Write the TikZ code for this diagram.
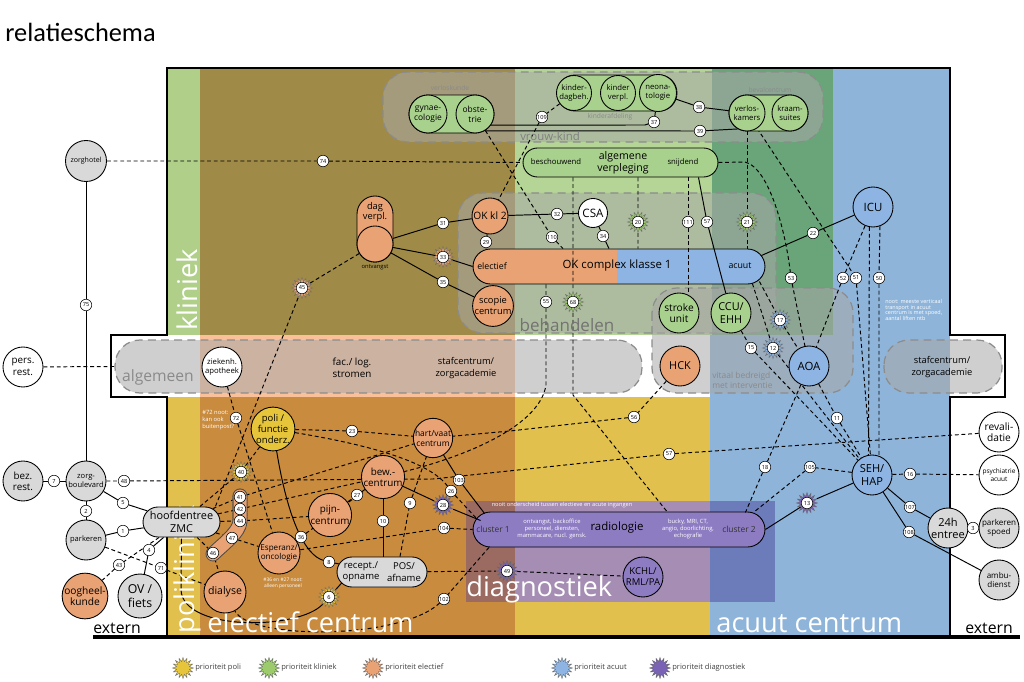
\documentclass[tikz,border=0pt]{standalone}
\usepackage{fontspec}
\setmainfont{Open Sans}
\newfontfamily\titlefont{Carlito}
\usetikzlibrary{shapes.geometric,shapes.misc,calc}
\pgfdeclarelayer{bg}
\pgfdeclarelayer{lines}
\pgfsetlayers{bg,lines,main}
\definecolor{cOlive}{HTML}{A08A48}
\definecolor{lgreenR}{HTML}{B4D596}
\definecolor{dgreenR}{HTML}{6AA57A}
\definecolor{blueR}{HTML}{8EB4DA}
\definecolor{orangeR}{HTML}{C98B3E}
\definecolor{yellowR}{HTML}{E2C04E}
\definecolor{stripG}{HTML}{B0D08A}
\definecolor{bandR}{HTML}{FAC09A}
\definecolor{boxgray}{HTML}{A8A8A8}
\definecolor{diagO}{HTML}{9B6B62}
\definecolor{diagY}{HTML}{A58DB3}
\definecolor{diagB}{HTML}{6C7BBA}
\definecolor{greenN}{HTML}{A9D18E}
\definecolor{orangeN}{HTML}{E8A274}
\definecolor{blueN}{HTML}{8DB4E2}
\definecolor{yellowN}{HTML}{E6C53A}
\definecolor{grayN}{HTML}{D9D9D9}
\definecolor{purpleN}{HTML}{8E7CC3}
\definecolor{txtgray}{HTML}{8A8A8A}
\definecolor{starY}{HTML}{E6C53A}
\definecolor{starG}{HTML}{9BCB6B}
\definecolor{starO}{HTML}{E8A274}
\definecolor{starB}{HTML}{8DB4E2}
\definecolor{starP}{HTML}{7A63B5}
\newcommand{\fsz}[2]{\fontsize{#1}{#2}\selectfont}
\newcommand{\prionode}[4]{\node[prio=#1] (#2) at (#3) {}; \node[num] at (#2) {#4};}
\tikzset{
  every node/.style={inner sep=0pt, align=center},
  nd/.style={circle, draw=black, line width=0.5pt, inner sep=0pt, align=center, font=\fsz{5.6}{6.4}},
  num/.style={circle, draw=black, line width=0.3pt, fill=white, inner sep=0pt, minimum size=0.23cm, font=\fsz{3.2}{3.2}},
  prio/.style={star, star points=16, star point ratio=1.6, minimum size=0.42cm, inner sep=0pt, fill=#1, draw=black!60, line width=0.2pt},
  pill/.style={rounded rectangle, draw=black, line width=0.5pt, inner sep=0pt, align=center},
  gbox/.style={fill=boxgray, fill opacity=0.55, draw=black!45, line width=0.7pt, dash pattern=on 4.5pt off 3pt, rounded corners=0.5cm},
  sl/.style={draw=black, line width=0.55pt},
  dl/.style={draw=black, line width=0.55pt, dash pattern=on 2.2pt off 1.6pt},
  bigw/.style={text=white, font=\fsz{15.5}{18}, inner sep=0pt},
  lbl/.style={text=txtgray, inner sep=0pt},
  wnote/.style={text=white, font=\fsz{3.3}{4}, align=left, inner sep=0pt},
  lgd/.style={anchor=west, text=black!75, font=\fsz{4.3}{5}}
}
\begin{document}
\begin{tikzpicture}[x=0.02cm, y=-0.02cm]
\useasboundingbox (0,0) rectangle (1024,682);
\begin{pgfonlayer}{bg}
\fill[white] (0,0) rectangle (1024,682);
\fill[stripG] (167,68) rectangle (200,335);
\fill[cOlive] (200,68) rectangle (515,335);
\fill[lgreenR] (515,68) rectangle (712,335);
\fill[dgreenR] (712,68) rectangle (833,335);
\fill[blueR] (833,68) rectangle (950,636);
\fill[blueR] (710,335) rectangle (833,636);
\fill[bandR] (200,335) rectangle (515,397);
\fill[yellowR] (167,397) rectangle (200,636);
\fill[orangeR] (200,397) rectangle (515,636);
\fill[yellowR] (515,397) rectangle (710,636);
\fill[diagO] (466,501) rectangle (515,602);
\fill[diagY] (515,501) rectangle (710,602);
\fill[diagB] (710,501) rectangle (775,602);
\draw[gbox] (383,72) rectangle (823,142);
\draw[gbox] (458,193) rectangle (776,333);
\draw[gbox] (652,288) rectangle (853,393);
\node[gbox, minimum width=10.54cm, minimum height=1.06cm] (algbox) at (378.5,366.5) {};
\draw[gbox] (884,340) rectangle (1002,393);
\draw[line width=0.85pt] (167,636) -- (167,397) -- (111,397) -- (111,335) -- (167,335) -- (167,68) -- (950,68) -- (950,335) -- (1005,335) -- (1005,397) -- (950,397) -- (950,636);
\draw[line width=1.8pt] (93,637) -- (1020,637);
\node[pill, fill=orangeN, minimum width=5.84cm, minimum height=0.7cm,
  path picture={\fill[blueN] ([xshift=2.88cm]path picture bounding box.south west) rectangle (path picture bounding box.north east);}] (okc) at (619,266.5) {};
\node[pill, fill=purpleN, minimum width=5.84cm, minimum height=0.7cm] (rad) at (619,529.5) {};
\end{pgfonlayer}

% big labels
\node[anchor=west, font=\titlefont\fsz{15}{18}] (title) at (5,32) {relatieschema};
\node[bigw, rotate=90, anchor=base west] (tklin) at (197,331) {kliniek};
\node[bigw, rotate=90, anchor=base west] (tpoli) at (194,634) {polikliniek};
\node[bigw, anchor=base west] (telec) at (207,632) {electief centrum};
\node[bigw, anchor=base west] (tdiag) at (466,596) {diagnostiek};
\node[bigw, anchor=base west] (tacu) at (716,632) {acuut centrum};
\node[font=\fsz{9}{10}, anchor=base west] (ext1) at (93,633) {extern};
\node[font=\fsz{9}{10}, anchor=base west] (ext2) at (965,633) {extern};

% grey labels
\node[lbl, font=\fsz{8.9}{10}] (talg) at (158,377) {algemeen};
\node[lbl, font=\fsz{9.7}{11}, text=black!55] (tbeh) at (567,325) {behandelen};
\node[lbl, font=\fsz{6.5}{7}, text=black!50] (tvk) at (550,136) {vrouw-kind};
\node[lbl, font=\fsz{3.8}{4.2}] (tvlk) at (450,88) {verloskunde};
\node[lbl, font=\fsz{3.8}{4.2}] (tkind) at (610,117) {kinderafdeling};
\node[lbl, font=\fsz{3.8}{4.2}] (tbev) at (770,90) {bevalcentrum};
\node[lbl, font=\fsz{4.8}{5.6}, align=left, anchor=west] (tvit) at (712,380) {vitaal bedreigd\\met interventie};

% white notes
\node[wnote, anchor=west] (w72) at (202,420) {\#72 noot:\\kan ook\\buitenpost?};
\node[wnote, align=center, font=\fsz{2.8}{3.6}] (w36) at (283,583) {\#36 en \#27 noot:\\alleen personeel};
\node[wnote, font=\fsz{3.2}{3.6}] (wnooit) at (562,505) {nooit onderscheid tussen electieve en acute ingangen};
\node[wnote, anchor=west, font=\fsz{3.1}{3.3}] (wnoot) at (885,310) {noot: meeste verticaal\\transport in acuut\\centrum is met spoed,\\aantal liften ntb};

% external left
\node[nd, fill=grayN, minimum size=0.82cm, font=\fsz{4}{4.5}] (zorghotel) at (86,161) {zorghotel};
\node[nd, fill=white, minimum size=0.8cm] (persrest) at (23,367) {pers.\\rest.};
\node[nd, fill=grayN, minimum size=0.8cm] (bezrest) at (23,481) {bez.\\rest.};
\node[nd, fill=grayN, minimum size=0.8cm, font=\fsz{4.3}{5}] (zorgb) at (86,481) {zorg-\\boulevard};
\node[nd, fill=grayN, minimum size=0.8cm, font=\fsz{4.3}{5}] (parkeren) at (86,540) {parkeren};
\node[nd, fill=orangeN, minimum size=0.84cm, font=\fsz{5.8}{6.6}] (oogheel) at (85,596) {oogheel-\\kunde};
\node[nd, fill=grayN, minimum size=0.88cm, font=\fsz{7}{8}] (ovfiets) at (140,596) {OV /\\fiets};
\node[pill, fill=grayN, minimum width=1.54cm, minimum height=0.6cm, font=\fsz{6.2}{7.4}] (hoofd) at (181.5,522) {hoofdentree\\ZMC};

% external right
\node[nd, fill=white, minimum size=0.8cm, font=\fsz{5.8}{6.6}] (revali) at (999,432) {revali-\\datie};
\node[nd, fill=white, minimum size=0.8cm, font=\fsz{3.7}{4.4}] (psych) at (999,475) {psychiatrie\\acuut};
\node[nd, fill=grayN, minimum size=0.8cm, font=\fsz{4.6}{5.4}] (parksp) at (999,528) {parkeren\\spoed};
\node[nd, fill=grayN, minimum size=0.8cm, font=\fsz{4.6}{5.4}] (ambu) at (999,580) {ambu-\\dienst};
\node[nd, fill=grayN, minimum size=0.8cm, font=\fsz{6.3}{7}] (e24) at (948,528) {24h\\entree};
\node[nd, fill=blueN, minimum size=0.8cm, font=\fsz{6.3}{7}] (seh) at (872,475) {SEH/\\HAP};
\node[nd, fill=blueN, minimum size=0.8cm, font=\fsz{6.5}{7}] (icu) at (873,207) {ICU};
\node[nd, fill=blueN, minimum size=0.8cm, font=\fsz{6.5}{7}] (aoa) at (809,366) {AOA};

% green
\node[pill, fill=greenN, minimum width=1.7cm, minimum height=0.76cm] (vkpill) at (451.5,114) {};
\node[nd, fill=greenN, minimum size=0.76cm, font=\fsz{4.8}{5.6}] (gyn) at (428,114) {gynae-\\cologie};
\node[nd, fill=greenN, minimum size=0.76cm, font=\fsz{4.8}{5.6}] (obs) at (475,114) {obste-\\trie};
\node[pill, fill=greenN, minimum width=2.4cm, minimum height=0.72cm] (kdpill) at (617,93) {};
\node[nd, fill=greenN, minimum size=0.7cm, font=\fsz{4.4}{5.2}] (kdb) at (574,93) {kinder-\\dagbeh.};
\node[nd, fill=greenN, minimum size=0.7cm, font=\fsz{4.4}{5.2}] (kvp) at (618,93) {kinder\\verpl.};
\node[nd, fill=greenN, minimum size=0.74cm, font=\fsz{4.4}{5.2}] (neo) at (658,93) {neona-\\tologie};
\node[pill, fill=greenN, minimum width=1.58cm, minimum height=0.72cm] (bcpill) at (768.5,113) {};
\node[nd, fill=greenN, minimum size=0.72cm, font=\fsz{4.4}{5.2}] (vlk) at (747,113) {verlos-\\kamers};
\node[nd, fill=greenN, minimum size=0.72cm, font=\fsz{4.4}{5.2}] (krm) at (790,113) {kraam-\\suites};
\node[pill, fill=greenN, minimum width=3.9cm, minimum height=0.58cm] (algv) at (620.5,162.5) {};
\node[font=\fsz{4.4}{5}] (tbesch) at (556,162) {beschouwend};
\node[font=\fsz{6}{6.8}] (talgv) at (623,163) {algemene\\verpleging};
\node[font=\fsz{4.4}{5}] (tsnij) at (683,162) {snijdend};
\node[nd, fill=greenN, minimum size=0.8cm, font=\fsz{5.8}{6.6}] (stroke) at (679,313) {stroke\\unit};
\node[nd, fill=greenN, minimum size=0.8cm, font=\fsz{6.2}{7}] (ccu) at (731,313) {CCU/\\EHH};

% orange / behandelen
\node[draw=black, line width=0.5pt, fill=orangeN, rounded corners=0.36cm, minimum width=0.72cm, minimum height=1.32cm, inner sep=0pt] (dagv) at (375,229) {};
\node[font=\fsz{5.3}{6}] (tdagv) at (375,212) {dag\\verpl.};
\node[nd, fill=orangeN, minimum size=0.72cm] (ontv) at (375,244) {};
\node[font=\fsz{3.3}{3.6}] (tontv) at (375,267) {ontvangst};
\node[nd, fill=orangeN, minimum size=0.72cm, font=\fsz{5.8}{6.6}] (okkl2) at (490,216) {OK kl 2};
\node[nd, fill=white, minimum size=0.58cm, font=\fsz{6.6}{7}] (csa) at (593,213) {CSA};
\node[nd, fill=orangeN, minimum size=0.8cm, font=\fsz{5.3}{6.2}] (scopie) at (493,306) {scopie\\centrum};
\node[font=\fsz{5}{6}] (tel) at (492,266) {electief};
\node[font=\fsz{6.5}{7}] (tokc) at (617,266) {OK complex klasse 1};
\node[font=\fsz{5}{6}] (tac) at (740,266) {acuut};
\node[nd, fill=orangeN, minimum size=0.8cm, font=\fsz{6.2}{7}] (hck) at (680,366) {HCK};

% algemeen texts
\node[nd, fill=white, minimum size=0.8cm, font=\fsz{4.4}{5.2}] (apoth) at (222,367) {ziekenh.\\apotheek};
\node[font=\fsz{5.6}{6.8}] (tfac) at (352,368) {fac./ log.\\stromen};
\node[font=\fsz{5.3}{6.6}] (tstaf) at (466,368) {stafcentrum/\\zorgacademie};
\node[font=\fsz{5.3}{6.6}] (tstaf2) at (942,367) {stafcentrum/\\zorgacademie};

% electief centrum
\node[nd, fill=yellowN, minimum size=0.84cm, font=\fsz{5.4}{6}] (poli) at (273,429) {poli /\\functie\\onderz.};
\node[nd, fill=orangeN, minimum size=0.78cm, font=\fsz{4.8}{5.6}] (hartvaat) at (433,438) {hart/vaat\\centrum};
\node[nd, fill=orangeN, minimum size=0.8cm, font=\fsz{5.6}{6.4}] (bew) at (383,477) {bew.-\\centrum};
\node[nd, fill=orangeN, minimum size=0.78cm, font=\fsz{5.6}{6.4}] (pijn) at (330,515) {pijn-\\centrum};
\node[nd, fill=orangeN, minimum size=0.84cm, font=\fsz{4.6}{5.4}] (esper) at (279,553) {Esperanz/\\oncologie};
\node[nd, fill=orangeN, minimum size=0.84cm, font=\fsz{6}{7}] (dialyse) at (225,592) {dialyse};
\node[pill, fill=grayN, minimum width=1.8cm, minimum height=0.6cm] (recept) at (382,572) {};
\node[font=\fsz{5.4}{6.4}] (trec) at (361,572) {recept./\\opname};
\node[font=\fsz{5.4}{6.4}] (tpos) at (404,572) {POS/\\afname};

% diagnostiek
\node[nd, fill=purpleN, minimum size=0.8cm, font=\fsz{5.4}{6.2}] (kchl) at (643,577) {KCHL/\\RML/PA};
\node[font=\fsz{4.8}{5.4}, text=black!80] (tcl1) at (493,529) {cluster 1};
\node[font=\fsz{3.3}{4.1}, text=white] (tontv2) at (552,529) {ontvangst, backoffice\\personeel, diensten,\\mammacare, nucl. gensk.};
\node[font=\fsz{6.5}{7.5}] (trad) at (617,528) {radiologie};
\node[font=\fsz{3.3}{4.1}, text=white] (tbucky) at (688,529) {bucky, MRI, CT,\\angio, doorlichting,\\echografie};
\node[font=\fsz{4.8}{5.4}, text=black!80] (tcl2) at (739,529) {cluster 2};

% electief priority group
\draw[line width=8.6pt, black!70, dash pattern=on 0.5pt off 0.7pt, line cap=round] (240,496) -- (240,521) .. controls (240,532) and (222,545) .. (213,554);
\draw[line width=7.4pt, orangeN, line cap=round] (240,496) -- (240,521) .. controls (240,532) and (222,545) .. (213,554);

% number labels
\node[num] (n75) at (86,305) {75};
\node[num] (n7) at (54,481) {7};
\node[num] (n2) at (86,511) {2};
\node[num] (n5) at (123,503) {5};
\node[num] (n1) at (123,531) {1};
\node[num] (n4) at (149,550) {4};
\node[num] (n43) at (119,565) {43};
\node[num] (n71) at (161,568) {71};
\node[num] (n48) at (124,481) {48};
\node[num] (n74) at (323,161) {74};
\node[num] (n37) at (654,122) {37};
\node[num] (n38) at (699,107) {38};
\node[num] (n39) at (700,131) {39};
\node[num] (n109) at (542,117) {109};
\node[num] (n110) at (552,237) {110};
\node[num] (n31) at (443,223) {31};
\node[num] (n35) at (443,282) {35};
\node[num] (n29) at (486,242) {29};
\node[num] (n32) at (557,214) {32};
\node[num] (n34) at (603,236) {34};
\node[num] (n111) at (688,222) {111};
\node[num] (n57b) at (707,222) {57};
\node[num] (n22) at (813,233) {22};
\node[num] (n53) at (791,278) {53};
\node[num] (n52) at (843,278) {52};
\node[num] (n51) at (856,278) {51};
\node[num] (n50) at (879,278) {50};
\node[num] (n55) at (546,302) {55};
\node[num] (n15) at (751,348) {15};
\node[num] (n11) at (837,418) {11};
\node[num] (n57) at (669,454) {57};
\node[num] (n18) at (765,467) {18};
\node[num] (n105) at (810,467) {105};
\node[num] (n16) at (910,474) {16};
\node[num] (n107) at (910,507) {107};
\node[num] (n108) at (909,532) {108};
\node[num] (n3) at (973,528) {3};
\node[num] (n72) at (236,418) {72};
\node[num] (n23) at (352,431) {23};
\node[num] (n56) at (634,417) {56};
\node[num] (n27) at (357,495) {27};
\node[num] (n9) at (410,503) {9};
\node[num] (n10) at (383,521) {10};
\node[num] (n26) at (451,491) {26};
\node[num] (n103) at (459,480) {103};
\node[num] (n104) at (444,528) {104};
\node[num] (n36) at (301,537) {36};
\node[num] (n8) at (329,562) {8};
\node[num] (n102) at (444,599) {102};
\node[num] (n41) at (240,497) {41};
\node[num] (n42) at (240,509) {42};
\node[num] (n44) at (240,521) {44};
\node[num] (n47) at (232,538) {47};
\node[num] (n46) at (213,553) {46};

% priority stars
\prionode{starO}{s33}{443,257}{33}
\prionode{starO}{s45}{302,288}{45}
\prionode{starG}{s20}{638,222}{20}
\prionode{starG}{s21}{747,222}{21}
\prionode{starG}{s68}{573,302}{68}
\prionode{starB}{s17}{780,320}{17}
\prionode{starB}{s12}{773,348}{12}
\prionode{starP}{s13}{807,503}{13}
\prionode{starP}{s28}{443,505}{28}
\prionode{starP}{s49}{507,571}{49}
\prionode{starY}{s40}{241,472}{40}
\prionode{starY}{s6}{329,597}{6}

% legend
\node[prio=starY] (lg1) at (183,668) {};
\node[lgd] (lt1) at (195,668) {prioriteit poli};
\node[prio=starG] (lg2) at (269,668) {};
\node[lgd] (lt2) at (281,668) {prioriteit kliniek};
\node[prio=starO] (lg3) at (373,668) {};
\node[lgd] (lt3) at (385,668) {prioriteit electief};
\node[prio=starB] (lg4) at (562,668) {};
\node[lgd] (lt4) at (574,668) {prioriteit acuut};
\node[prio=starP] (lg5) at (660,668) {};
\node[lgd] (lt5) at (672,668) {prioriteit diagnostiek};

\begin{pgfonlayer}{lines}
% solid
\draw[sl] (zorghotel) -- (n75) -- (zorgb);
\draw[sl] (bezrest) -- (n7) -- (zorgb);
\draw[sl] (zorgb) -- (n2) -- (parkeren);
\draw[sl] (zorgb) -- (n5) -- (hoofd);
\draw[sl] (parkeren) -- (n1) -- (hoofd);
\draw[sl] (hoofd) -- (n4) -- (ovfiets);
\draw[sl] (gyn) -- (obs);
\draw[sl] (kdb) -- (kvp) -- (neo);
\draw[sl] (vlk) -- (krm);
\draw[sl] (obs.-35) -- (645,125) -- (n37) -- (neo);
\draw[sl] (obs.-60) -- (n39) -- (vlk.-120);
\draw[sl] (neo) -- (n38) -- (vlk);
\draw[sl] (ontv) -- (n31) -- (okkl2);
\draw[sl] (ontv) -- (s33) -- (okc.west);
\draw[sl] (ontv) -- (n35) -- (scopie);
\draw[sl] (okkl2) -- (n32) -- (csa);
\draw[sl] (csa) -- (n34) -- ($(n34 |- okc.north)+(6,0)$);
\draw[sl] ($(algv.south)+(78,0)$) -- (n57b) -- (ccu);
\draw[sl] ($(okc.east)+(-4,-11)$) -- (n22) -- (icu);
\draw[sl] (seh) -- (s13) -- (rad.east);
\draw[sl] (seh) -- (n107) -- (e24);
\draw[sl] (seh) -- (n108) -- (ambu);
\draw[sl] (e24) -- (n3) -- (parksp);
\draw[sl] (poli) .. controls (288,520) and (305,555) .. (n8) -- (recept);
\draw[sl] (bew) -- (n10) -- (n10 |- recept.north);
\draw[sl] (bew) -- (s28) -- ($(rad.west)+(8,-9)$);
\draw[sl] (hartvaat) -- (n103) -- ($(rad.west)+(12,-16)$);
\draw[sl] ($(recept.west)+(6,10)$) -- (s6) .. controls (300,630) and (183,632) .. (181,590) -- (hoofd.south);
% dashed
\draw[dl] (zorghotel) -- (n74) -- (algv.west);
\draw[dl] (persrest) -- (algbox.west);
\draw[dl] (zorgb) -- (n48) -- (433,479) -- (n57) -- (revali);
\draw[dl] (seh) -- (n16) -- (psych);
\draw[dl] (aoa) -- (n11) -- (seh);
\draw[dl] (aoa) -- (n18) -- ($(rad.east)+(-20,-17)$);
\draw[dl] (seh) -- (n105) -- ($(rad.east)+(-12,-17)$);
\draw[dl] ($(okc.east)+(-13,17)$) -- (s12) -- (seh);
\draw[dl] (ccu) -- (n15) -- (seh);
\draw[dl] ($(okc.east)+(-6,15)$) -- (s17) -- (aoa);
\draw[dl] (algv.east) -- (745,162) .. controls (770,168) and (786,235) .. (n53) -- (aoa);
\draw[dl] (icu) -- (n52) -- (aoa);
\draw[dl] (vlk) -- (n51) -- (seh);
\draw[dl] (icu.-70) -- (n50) -- (seh.70);
\draw[dl] (icu.-100) -- (seh.100);
\draw[dl] (vlk.south) -- (s21) -- (s21 |- okc.north);
\draw[dl] ($(algv.south)+(17.5,0)$) -- (s20) -- (s20 |- okc.north);
\draw[dl] (n111 |- algv.south) -- (n111) -- (n111 |- stroke.north);
\draw[dl] (obs) -- (n110) -- ($(okc.north)+(-56,0)$);
\draw[dl] (kdb) -- (n109) -- (okkl2);
\draw[dl] (okkl2) -- (n29) -- (n29 |- okc.north);
\draw[dl] ($(okc.south)+(-73,0)$) -- (n55) -- (546,385) .. controls (540,425) and (470,455) .. (bew);
\draw[dl] (s68 |- algv.south) -- (s68) -- (573,395) -- ($(rad.north)+(48,0)$);
\draw[dl] (hck) -- (n56) -- (510,431) -- (hartvaat);
\draw[dl] (poli) -- (n23) -- (hartvaat);
\draw[dl] (poli) .. controls (370,445) and (430,462) .. (n26) -- ($(rad.west)+(4,-11)$);
\draw[dl] (hoofd) -- (s40) -- (poli);
\draw[dl] (hoofd) -- (n41) -- (hartvaat);
\draw[dl] (hoofd) -- (n42) -- (bew);
\draw[dl] (hoofd) -- (n44) -- (pijn);
\draw[dl] (hoofd) -- (n47) -- (esper);
\draw[dl] (hoofd) -- (n46) -- (dialyse);
\draw[dl] (ontv) -- (s45) -- ($(hoofd.east)+(-6,-13)$);
\draw[dl] (apoth) -- (n72) -- (esper);
\draw[dl] (esper) -- (n36) -- (bew);
\draw[dl] (pijn) -- (n27) -- (bew);
\draw[dl] ($(recept.north)+(18,0)$) -- (n9) -- (hartvaat);
\draw[dl] (esper) -- (n104) -- (rad.west);
\draw[dl] ($(rad.south)+(-130,0)$) -- (n102) .. controls (400,640) and (250,640) .. (dialyse);
\draw[dl] (recept) -- (s49) -- (kchl);
\draw[dl] (hoofd) -- (n43) -- (oogheel);
\draw[dl] (parkeren) -- (n71) -- (dialyse);
\end{pgfonlayer}
\end{tikzpicture}
\end{document}
